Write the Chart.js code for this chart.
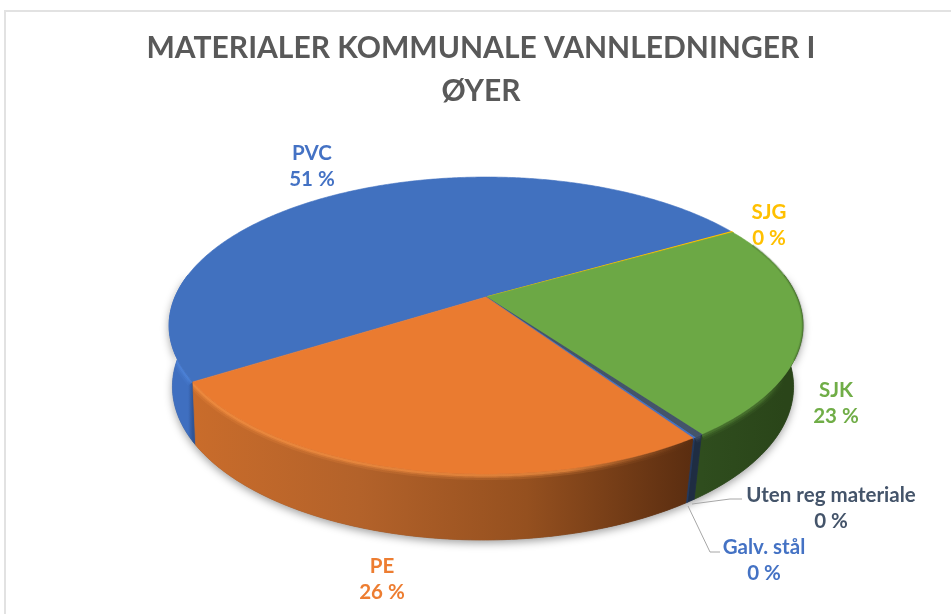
<!DOCTYPE html>
<html>
<head>
<meta charset="utf-8">
<title>Materialer kommunale vannledninger</title>
<script src="https://cdn.jsdelivr.net/npm/chart.js@4/dist/chart.umd.min.js"></script>
<style>
    html, body { margin: 0; padding: 0; background: #fff; overflow: hidden; }
    #frame { position: absolute; left: 4px; top: 10px; width: 960px; height: 620px; border: 2px solid #e2e2e2; }
    #chart { position: absolute; left: 0; top: 0; }
</style>
</head>
<body>
<div id="frame"></div>
<canvas id="chart" width="951" height="614"></canvas>
<script>
const titleLines = ["MATERIALER KOMMUNALE VANNLEDNINGER I", "ØYER"];
const categories = ["PVC", "SJG", "SJK", "Uten reg materiale", "Galv. stål", "PE"];
const shares = [50.6, 0.1, 23.3, 0.4, 0.1, 25.5];
const colors = ["#4171bf", "#ffc000", "#6ca845", "#44546a", "#4472c4", "#ea7b30"];
const labelColors = ["#4472c4", "#ffc000", "#70ad47", "#44546a", "#4472c4", "#ed7d31"];

// side wall shading, left to right
const wallStops = [
    ["#3f6fc0", "#2f5597"],
    ["#7f6000", "#7f6000"],
    ["#2f4d1e", "#2a4519"],
    ["#1f2d42", "#1f2d42"],
    ["#22395f", "#22395f"],
    ["#c96c2b", "#b3622a", "#95501f", "#5a2d10"],
];
const rimColors = ["#4f86dc", "#ffc000", "#5b8f3a", "#44546a", "#4472c4", "#fb9444"];

// layout of the drawing, in page pixels
const pie = { ax: 486, ay: 297, rx: 311, ry: 143, k: 0.192, taper: 0.98, drift: -3 };
const labelSpots = [
    [312, 153],
    [769, 212],
    [836, 390],
    [831, 495],
    [764, 547],
    [382, 566],
];
const leaders = {
    3: [[692, 504], [730, 499], [742, 499]],
    4: [[688, 506], [710, 552], [720, 552]],
};

// perspective view of a point on the pie's rim
const rimPoint = (angle, lower) => {
    const u = Math.cos(angle);
    const v = Math.sin(angle);
    const w = 1 - pie.k * v;
    let x = (pie.rx * u) / w;
    let y = pie.ay + (pie.ry * v) / w;
    if (lower) {
        x = x * pie.taper + pie.drift;
        y = y + 60 + 6 * v;
    }
    return [pie.ax + x, y];
};

const tracePoints = (ctx, from, to, lower, move) => {
    const steps = Math.max(2, Math.ceil(Math.abs(to - from) / 0.01));
    for (let i = 0; i <= steps; i++) {
        const p = rimPoint(from + ((to - from) * i) / steps, lower);
        if (i == 0 && move) ctx.moveTo(p[0], p[1]);
        else ctx.lineTo(p[0], p[1]);
    }
};

const pie3d = {
    id: "pie3d",
    beforeDatasetsDraw(chart) {
        const ctx = chart.ctx;
        const arcs = chart.getDatasetMeta(0).data;
        const lo = -0.16;
        const hi = Math.PI + 0.16;

        // soft shadow under the body
        ctx.save();
        ctx.shadowColor = "rgba(0,0,0,0.38)";
        ctx.shadowBlur = 9;
        ctx.shadowOffsetY = 3;
        ctx.fillStyle = "#555";
        ctx.beginPath();
        tracePoints(ctx, lo, hi, true, true);
        tracePoints(ctx, hi, lo, false, false);
        ctx.closePath();
        ctx.fill();
        ctx.restore();

        // walls, clipped to the part that faces the viewer
        arcs.forEach((arc, i) => {
            const turn = Math.PI * 2;
            for (const shift of [-turn, 0, turn]) {
                const a = Math.max(arc.startAngle + shift, lo);
                const b = Math.min(arc.endAngle + shift, hi);
                if (b <= a) continue;
                const xa = rimPoint(a, false)[0];
                const xb = rimPoint(b, false)[0];
                const grad = ctx.createLinearGradient(Math.min(xa, xb), 0, Math.max(xa, xb), 0);
                wallStops[i].forEach((c, n) => grad.addColorStop(n / (wallStops[i].length - 1), c));
                ctx.fillStyle = grad;
                ctx.strokeStyle = grad;
                ctx.lineWidth = 0.8;
                ctx.beginPath();
                tracePoints(ctx, a, b, false, true);
                tracePoints(ctx, b, a, true, false);
                ctx.closePath();
                ctx.fill();
                ctx.stroke();

                // bevel just under the top edge, kept inside the wall
                ctx.save();
                ctx.beginPath();
                tracePoints(ctx, a, b, false, true);
                tracePoints(ctx, b, a, true, false);
                ctx.closePath();
                ctx.clip();
                const fade = ctx.createLinearGradient(Math.min(xa, xb), 0, Math.max(xa, xb), 0);
                fade.addColorStop(0, rimColors[i]);
                fade.addColorStop(0.75, rimColors[i]);
                fade.addColorStop(1, wallStops[i][wallStops[i].length - 1]);
                ctx.strokeStyle = fade;
                [[12, 0.16], [8, 0.28], [5, 0.5]].forEach((band) => {
                    ctx.globalAlpha = band[1] * (i == 2 ? 0.7 : 1);
                    ctx.lineWidth = band[0];
                    ctx.beginPath();
                    tracePoints(ctx, a, b, false, true);
                    ctx.stroke();
                });
                ctx.restore();
            }
        });

        // top faces, angles come from the library's arcs
        arcs.forEach((arc, i) => {
            ctx.fillStyle = colors[i];
            ctx.strokeStyle = colors[i];
            ctx.lineWidth = shares[i] < 1 ? 1.2 : 0.6;
            ctx.beginPath();
            ctx.moveTo(pie.ax, pie.ay);
            tracePoints(ctx, arc.startAngle, arc.endAngle, false, false);
            ctx.closePath();
            ctx.fill();
            ctx.stroke();
        });

        // dark soft edge on the right of the green slice
        ctx.save();
        ctx.strokeStyle = "#2f4d1e";
        [[3, 0.12], [1.5, 0.2]].forEach((band) => {
            ctx.globalAlpha = band[1];
            ctx.lineWidth = band[0];
            ctx.beginPath();
            tracePoints(ctx, -0.4, 0.42, false, true);
            ctx.stroke();
        });
        ctx.restore();
        return false;
    },
    afterDraw(chart) {
        const ctx = chart.ctx;
        ctx.save();
        ctx.strokeStyle = "#a6a6a6";
        ctx.lineWidth = 1;
        Object.values(leaders).forEach((line) => {
            ctx.beginPath();
            line.forEach((p, n) => (n == 0 ? ctx.moveTo(p[0], p[1]) : ctx.lineTo(p[0], p[1])));
            ctx.stroke();
        });
        ctx.font = "bold 20.5px Lato";
        ctx.textAlign = "center";
        ctx.textBaseline = "middle";
        categories.forEach((name, i) => {
            const spot = labelSpots[i];
            ctx.fillStyle = labelColors[i];
            ctx.fillText(name, spot[0], spot[1]);
            ctx.fillText(`${Math.round(shares[i])} %`, spot[0], spot[1] + 26.5);
        });
        ctx.restore();
    },
};

const config = {
    type: "pie",
    data: {
        labels: categories,
        datasets: [
            {
                data: shares,
                backgroundColor: colors,
                borderWidth: 0,
            },
        ],
    },
    options: {
        responsive: false,
        animation: false,
        rotation: 237.8,
        layout: {
            padding: { left: 11, top: 27, bottom: 20 },
        },
        plugins: {
            legend: { display: false },
            tooltip: { enabled: false },
            title: {
                display: true,
                text: titleLines,
                color: "#595959",
                font: { family: "Lato", size: 30, weight: "bold", lineHeight: 1.43 },
                padding: 0,
            },
        },
    },
    plugins: [pie3d],
};

new Chart(document.getElementById("chart"), config);
</script>
</body>
</html>
